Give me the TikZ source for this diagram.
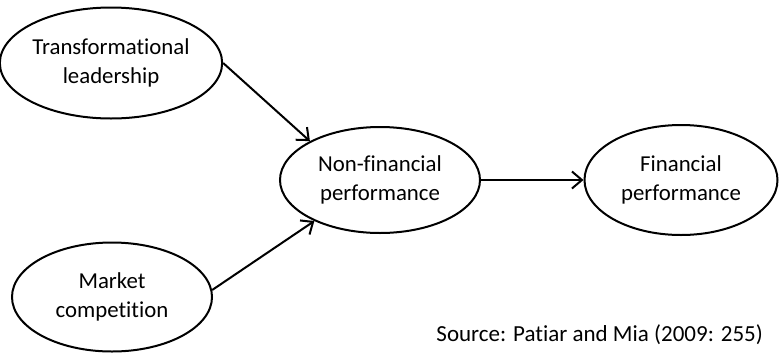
\documentclass[tikz,border=0pt]{standalone}
\usepackage{fontspec}
\setmainfont{Carlito}[Ligatures=NoCommon]
\usetikzlibrary{shapes.geometric,arrows.meta}
\tikzset{
  construct/.style={ellipse, draw=black, line width=2pt, inner sep=0pt,
    align=center, font=\fontsize{22.8}{29}\selectfont},
  link/.style={line width=2pt, -{Straight Barb[length=10pt,width=17pt,line width=2pt]}}
}
\begin{document}
\begin{tikzpicture}[x=1pt,y=-1pt]
\useasboundingbox (0,0) rectangle (779,354);
\node[construct, minimum width=202pt, minimum height=111pt] (tl) at (111,63) {Transformational\\leadership};
\node[construct, minimum width=200pt, minimum height=109pt] (mc) at (112,297) {Market\\competition};
\node[construct, minimum width=200pt, minimum height=106pt] (nf) at (380,180) {Non-financial\\performance};
\node[construct, minimum width=193pt, minimum height=110pt] (fp) at (681,180) {Financial\\performance};
\node[font=\fontsize{23}{27}\selectfont, anchor=east, inner sep=0pt] (src) at (763,335) {Source: Patiar and Mia (2009: 255)};
\draw[link] (tl.east) -- (nf.151);
\draw[link] (mc.4) -- (nf.212);
\draw[link] (nf.east) -- (fp.west);
\end{tikzpicture}
\end{document}
